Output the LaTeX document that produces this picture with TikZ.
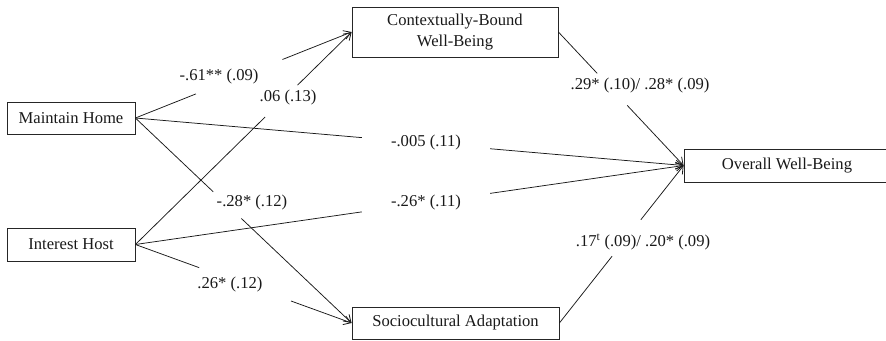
\documentclass[tikz,border=0pt]{standalone}
\usepackage{fontspec}
\setmainfont{Liberation Serif}
\usetikzlibrary{arrows.meta,calc}
\tikzset{
  box/.style={draw=black!85, line width=0.8pt, rectangle, inner sep=0pt, font=\fontsize{16.6}{20.5}\selectfont, text=black!90, align=center},
  lbl/.style={font=\fontsize{16.6}{20}\selectfont, text=black!90, inner sep=0pt},
  conn/.style={draw=black!90, line width=0.75pt},
  tip/.style={conn, -{Straight Barb[length=7pt,width=9pt,line width=0.8pt]}}
}
\begin{document}
\begin{tikzpicture}[x=1pt,y=-1pt]
\useasboundingbox (0,0) rectangle (886,340);
\begin{scope}
\clip (0,0) rectangle (886,340);
% boxes
\node[box, minimum width=128pt, minimum height=32pt] (mh) at (71,118) {Maintain Home};
\node[box, minimum width=128pt, minimum height=33pt] (ih) at (71,244.5) {Interest Host};
\node[box, minimum width=206pt, minimum height=50pt] (cb) at (455,32) {Contextually-Bound\\Well-Being};
\node[box, minimum width=207pt, minimum height=32pt] (sa) at (455.5,323) {Sociocultural Adaptation};
\node[box, minimum width=206pt, minimum height=33pt] (ow) at (787,165.5) {Overall Well-Being};
\end{scope}
% connectors (broken where labels sit)
\draw[conn] (mh.east) -- ($(mh.east)!0.28!(cb.west)$);
\draw[tip] ($(mh.east)!0.68!(cb.west)$) -- (cb.west);
\draw[conn] (ih.east) -- ($(ih.east)!0.60!(cb.west)$);
\draw[tip] ($(ih.east)!0.75!(cb.west)$) -- (cb.west);
\draw[conn] (mh.east) -- ($(mh.east)!0.36!(sa.west)$);
\draw[tip] ($(mh.east)!0.49!(sa.west)$) -- (sa.west);
\draw[conn] (ih.east) -- ($(ih.east)!0.295!(sa.west)$);
\draw[tip] ($(ih.east)!0.72!(sa.west)$) -- (sa.west);
\draw[conn] (mh.east) -- ($(mh.east)!0.413!(ow.west)$);
\draw[tip] ($(mh.east)!0.647!(ow.west)$) -- (ow.west);
\draw[conn] (ih.east) -- ($(ih.east)!0.413!(ow.west)$);
\draw[tip] ($(ih.east)!0.647!(ow.west)$) -- (ow.west);
\draw[conn] (cb.east) -- ($(cb.east)!0.31!(ow.west)$);
\draw[tip] ($(cb.east)!0.55!(ow.west)$) -- (ow.west);
\draw[conn] (sa.east) -- ($(sa.east)!0.424!(ow.west)$);
\draw[tip] ($(sa.east)!0.656!(ow.west)$) -- (ow.west);
% labels
\node[lbl] (l1) at (219,77) {-.61** (.09)};
\node[lbl] (l2) at (288,98) {.06 (.13)};
\node[lbl] (l3) at (426,143) {-.005 (.11)};
\node[lbl] (l4) at (426,203) {-.26* (.11)};
\node[lbl] (l5) at (252,203) {-.28* (.12)};
\node[lbl] (l6) at (230,285) {.26* (.12)};
\node[lbl] (l7) at (640,86) {.29* (.10)/ .28* (.09)};
\node[lbl] (l8) at (643,242) {.17\textsuperscript{t} (.09)/ .20* (.09)};
\end{tikzpicture}
\end{document}
